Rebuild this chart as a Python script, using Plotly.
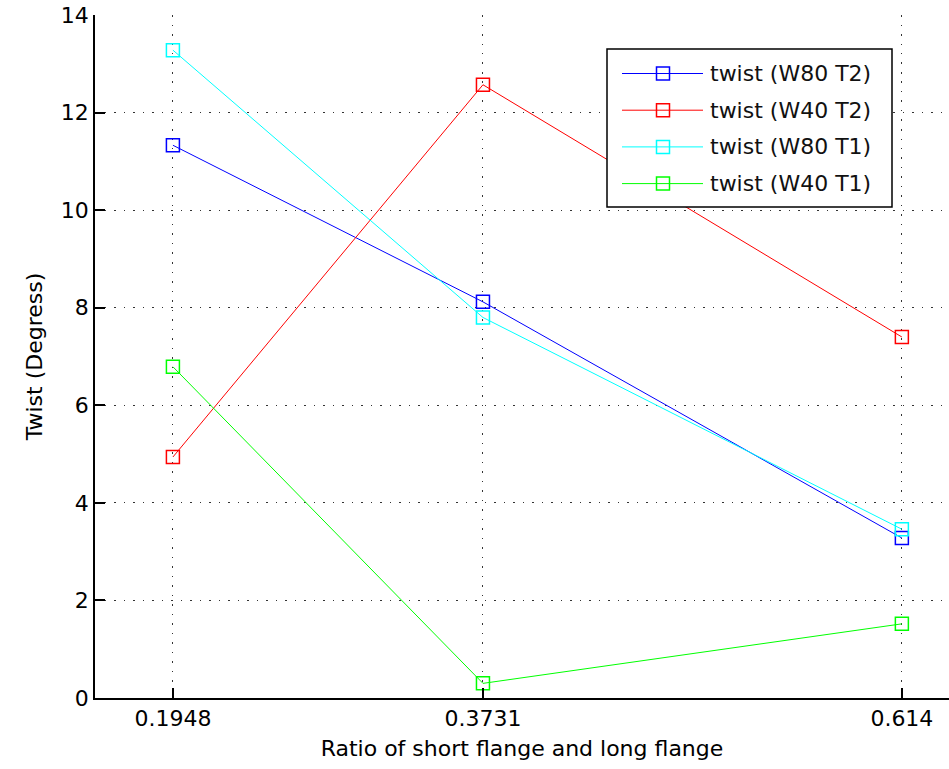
import plotly.graph_objects as go

# Flange ratio (short / long) on the x axis
ratios = [0.1948, 0.3731, 0.614]
tick_labels = ["0.1948", "0.3731", "0.614"]

# Twist in degrees for each specimen set
twist_w80_t2 = [11.33, 8.12, 3.28]
twist_w40_t2 = [4.94, 12.57, 7.40]
twist_w80_t1 = [13.28, 7.80, 3.46]
twist_w40_t1 = [6.79, 0.30, 1.52]

series = [
    ("twist (W80 T2)", twist_w80_t2, "#0000FF"),
    ("twist (W40 T2)", twist_w40_t2, "#FF0000"),
    ("twist (W80 T1)", twist_w80_t1, "#00FFFF"),
    ("twist (W40 T1)", twist_w40_t1, "#00FF00"),
]

FONT = "DejaVu Sans"
W, H = 949, 769
M_L, M_R, M_T, M_B = 95, 0, 15, 71
PW, PH = W - M_L - M_R, H - M_T - M_B


def px_x(px):
    return (px - M_L) / PW


def px_y(py):
    return 1 - (py - M_T) / PH


fig = go.Figure()
for name, vals, color in series:
    fig.add_trace(go.Scatter(
        x=ratios, y=vals, name=name, mode="lines+markers",
        line=dict(color=color, width=1),
        marker=dict(symbol="square-open", size=13, color=color,
                    line=dict(width=1.5, color=color)),
        cliponaxis=False, showlegend=False,
    ))

# Boxed legend in the upper right, MATLAB style (long line sample, marker centred)
shapes = []
annotations = []
box_l, box_r, box_t, box_b = 607, 892, 49, 207
first_row, row_step = 73.5, 36.7
shapes.append(dict(type="rect", xref="paper", yref="paper",
                   x0=px_x(box_l), x1=px_x(box_r), y0=px_y(box_b), y1=px_y(box_t),
                   fillcolor="white", line=dict(color="black", width=1.5),
                   layer="above"))
for i, (name, _, color) in enumerate(series):
    cy = first_row + row_step * i
    shapes.append(dict(type="line", xref="paper", yref="paper",
                       x0=px_x(622), x1=px_x(703), y0=px_y(cy), y1=px_y(cy),
                       line=dict(color=color, width=1), layer="above"))
    shapes.append(dict(type="rect", xref="paper", yref="paper",
                       x0=px_x(663 - 6.5), x1=px_x(663 + 6.5),
                       y0=px_y(cy + 6.5), y1=px_y(cy - 6.5),
                       fillcolor="rgba(0,0,0,0)", line=dict(color=color, width=1.5),
                       layer="above"))
    annotations.append(dict(xref="paper", yref="paper", x=px_x(708), y=px_y(cy),
                            xanchor="left", yanchor="middle", showarrow=False,
                            text=name, font=dict(family=FONT, size=22, color="#111111")))

fig.update_layout(
    width=W, height=H,
    margin=dict(l=M_L, r=M_R, t=M_T, b=M_B),
    paper_bgcolor="white", plot_bgcolor="white",
    font=dict(family=FONT, size=22, color="black"),
    shapes=shapes, annotations=annotations,
    xaxis=dict(
        range=[0.15, 0.6411],
        tickmode="array", tickvals=ratios, ticktext=tick_labels,
        ticks="inside", ticklen=10, tickwidth=1.5, tickcolor="black",
        showline=True, linecolor="black", linewidth=1.5,
        showgrid=True, gridcolor="#333333", gridwidth=1, griddash="1.5px,8px",
        zeroline=False, mirror=False,
        title=dict(text="Ratio of short flange and long flange",
                   font=dict(family=FONT, size=22), standoff=10),
        tickfont=dict(family=FONT, size=22),
    ),
    yaxis=dict(
        range=[0, 14], tickmode="linear", tick0=0, dtick=2,
        ticks="inside", ticklen=10, tickwidth=1.5, tickcolor="black",
        showline=True, linecolor="black", linewidth=1.5,
        showgrid=True, gridcolor="#333333", gridwidth=1, griddash="1.5px,8px",
        zeroline=False, mirror=False,
        title=dict(text="Twist (Degress)", font=dict(family=FONT, size=22),
                   standoff=12),
        tickfont=dict(family=FONT, size=22),
    ),
)

fig.write_html("out.html")
